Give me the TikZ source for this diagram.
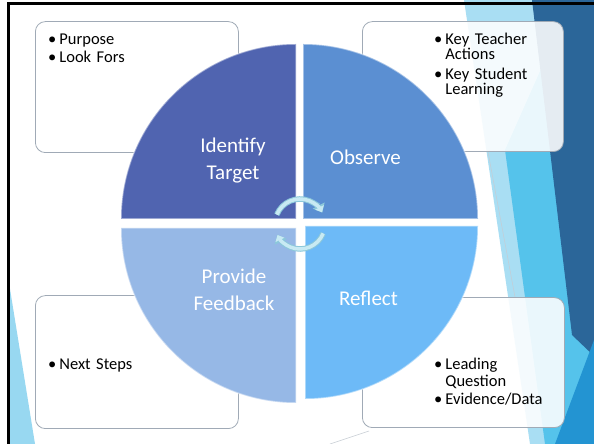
\documentclass[tikz,border=0pt]{standalone}
\usepackage{fontspec}
\setmainfont{Carlito}
\usetikzlibrary{arrows.meta}

\definecolor{targetblue}{RGB}{80,100,176}
\definecolor{observeblue}{RGB}{91,143,210}
\definecolor{feedbackblue}{RGB}{150,184,230}
\definecolor{reflectblue}{RGB}{109,186,247}
\definecolor{facetpale}{RGB}{169,222,243}
\definecolor{facetcyan}{RGB}{85,195,235}
\definecolor{facetdark}{RGB}{43,102,153}
\definecolor{facetmid}{RGB}{35,148,210}
\definecolor{boxline}{RGB}{160,170,182}
\definecolor{turncyan}{RGB}{200,234,243}
\definecolor{turnrim}{RGB}{140,200,218}

\newcommand{\itm}{\textbullet\hspace{3pt}}
\newcommand{\ind}{\phantom{\textbullet\hspace{3pt}}}
\lineskiplimit=-5pt

\begin{document}
\begin{tikzpicture}[x=1pt, y=1pt]
            \tikzset{quarter/.style={draw=white, draw opacity=0.45, line width=1.5pt}, notebox/.style={draw=boxline, fill=white, fill opacity=0.88, rounded corners=10pt, line width=0.8pt, anchor=south west, inner sep=0pt}, phase/.style={text=white, align=center, font=\fontsize{21}{27}\selectfont, inner sep=0pt}, bullets/.style={anchor=base west, inner sep=0pt, text width=130pt, align=left, font=\fontsize{16.5}{18}\selectfont}, turnrimline/.style={turnrim, line width=5.5pt, -{Triangle[width=13pt, length=8pt]}}, turn/.style={turncyan, line width=3.5pt, -{Triangle[width=9.5pt, length=5.5pt]}}}
                    \useasboundingbox (0,0) rectangle (594,444);
                    \fill[white] (0,0) rectangle (594,444);
                    \fill[facetpale] (464,444) -- (594,444) -- (594,0) -- (530,0) -- cycle;
                    \fill[facetcyan] (545,384) -- (505,294) -- (545,0) -- (594,0) -- (594,384) -- cycle;
                    \fill[facetdark] (532,444) -- (594,444) -- (594,88) -- (572,109) -- cycle;
                    \fill[facetmid] (594,104) -- (594,0) -- (555,0) -- cycle;
                    \fill[facetpale!80!facetcyan] (10,155) -- (35,0) -- (10,0) -- cycle;
                    \draw[boxline!60, line width=0.5pt] (488,292) -- (515,147);
                    \draw[boxline!60, line width=0.5pt] (369,13) -- (330,0);
                    \draw[line width=3pt] (8.5,0) -- (8.5,440.5) -- (594,440.5);

                    \node[notebox, minimum width=203pt, minimum height=131pt] (purposebox) at (35,291) {};
                    \node[notebox, minimum width=201pt, minimum height=130pt] (teacherbox) at (362,292) {};
                    \node[notebox, minimum width=203pt, minimum height=133pt] (nextbox) at (35,15) {};
                    \node[notebox, minimum width=202pt, minimum height=130pt] (leadingbox) at (362,16) {};

                    \path[quarter, fill=targetblue] (296,225) -- (121,225) arc[start angle=180, end angle=90, radius=175] -- cycle;
                    \path[quarter, fill=observeblue] (303,225) -- (303,400) arc[start angle=90, end angle=0, radius=175] -- cycle;
                    \path[quarter, fill=feedbackblue] (296,216) -- (296,41) arc[start angle=270, end angle=180, radius=175] -- cycle;
                    \path[quarter, fill=reflectblue] (305,218) -- (478,218) arc[start angle=0, end angle=-90, radius=173] -- cycle;

                    \coordinate (hub) at (300,220);
                    \draw[turnrimline] ([shift={(158:25)}]hub) arc[start angle=158, end angle=27, radius=25];
                    \draw[turnrimline] ([shift={(-22:25)}]hub) arc[start angle=-22, end angle=-155, radius=25];
                    \draw[turn] ([shift={(158:25)}]hub) arc[start angle=158, end angle=28, radius=25];
                    \draw[turn] ([shift={(-22:25)}]hub) arc[start angle=-22, end angle=-154, radius=25];

                    \node[phase] (identify) at (233,283) {Identify\\Target};
                    \node[phase, anchor=base] (observe) at (365.5,279) {Observe};
                    \node[phase] (feedback) at (234,154) {Provide\\Feedback};
                    \node[phase, anchor=base] (reflect) at (368.5,138) {Reflect};

                    \node[bullets] (purposelist) at (48,399) {\itm Purpose\\\itm Look Fors};
                    \node[bullets, font=\fontsize{16.5}{15}\selectfont] (teacherlist) at (434,399) {\itm Key Teacher\\\ind Actions\\[5pt]\itm Key Student\\\ind Learning};
                    \node[bullets] (nextlist) at (48,74) {\itm Next Steps};
                    \node[bullets, font=\fontsize{16.5}{17}\selectfont] (leadinglist) at (434,74) {\itm Leading\\\ind Question\\[1pt]\itm Evidence/Data};
\end{tikzpicture}
\end{document}
